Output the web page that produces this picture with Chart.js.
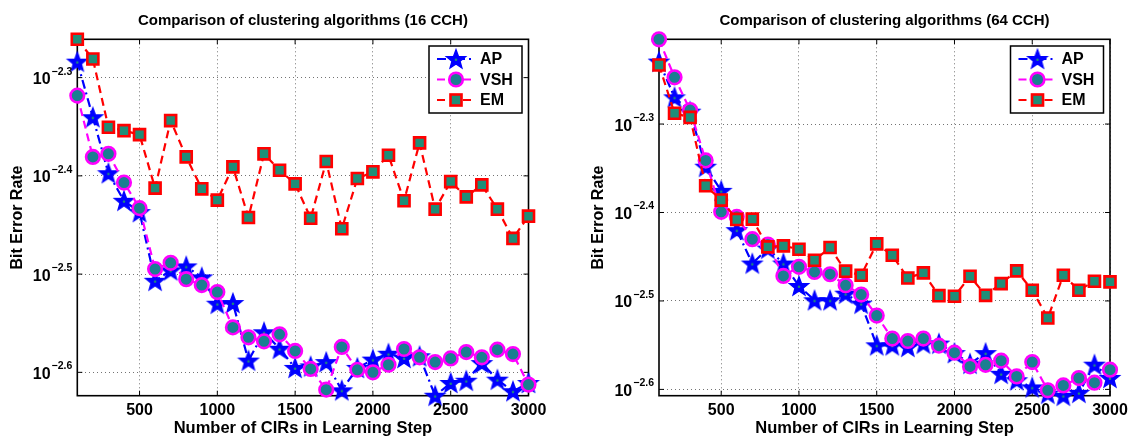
<!DOCTYPE html>
<html>
<head>
<meta charset="utf-8">
<script src="https://cdn.jsdelivr.net/npm/chart.js@4.4.1/dist/chart.umd.min.js"></script>
<style>
  html, body { margin: 0; padding: 0; background: #ffffff; }
  #wrap { position: relative; width: 1131px; height: 440px; overflow: hidden; background: #ffffff; }
  #wrap canvas { position: absolute; top: 0; }
</style>
</head>
<body>
<div id="wrap">
  <canvas id="ber16" width="565" height="440" style="left:0px"></canvas>
  <canvas id="ber64" width="566" height="440" style="left:565px"></canvas>
</div>
<script>
// Number of CIRs used in the learning step
const learningSteps = [100, 200, 300, 400, 500, 600, 700, 800, 900, 1000,
  1100, 1200, 1300, 1400, 1500, 1600, 1700, 1800, 1900, 2000,
  2100, 2200, 2300, 2400, 2500, 2600, 2700, 2800, 2900, 3000];

// Bit error rate, 16 CCH
const ap16 = [0.005203, 0.004568, 0.004006, 0.003755, 0.003657, 0.003113, 0.003190, 0.003220, 0.003138, 0.002950,
  0.002955, 0.002582, 0.002759, 0.002655, 0.002538, 0.002547, 0.002573, 0.002408, 0.002538, 0.002588,
  0.002624, 0.002598, 0.002608, 0.002378, 0.002450, 0.002463, 0.002567, 0.002469, 0.002403, 0.002450];
const vsh16 = [0.004805, 0.004162, 0.004192, 0.003919, 0.003691, 0.003200, 0.003247, 0.003125, 0.003082, 0.003032,
  0.002791, 0.002727, 0.002701, 0.002746, 0.002641, 0.002532, 0.002412, 0.002666, 0.002527, 0.002512,
  0.002557, 0.002653, 0.002602, 0.002573, 0.002595, 0.002634, 0.002602, 0.002649, 0.002622, 0.002441];
const em16 = [0.005483, 0.005236, 0.004462, 0.004426, 0.004385, 0.003868, 0.004532, 0.004162, 0.003862, 0.003761,
  0.004066, 0.003611, 0.004192, 0.004034, 0.003907, 0.003605, 0.004117, 0.003517, 0.003956, 0.004019,
  0.004178, 0.003755, 0.004301, 0.003682, 0.003928, 0.003790, 0.003898, 0.003682, 0.003438, 0.003622];

// Bit error rate, 64 CCH
const ap64 = [0.005897, 0.005373, 0.005176, 0.004485, 0.004212, 0.003802, 0.003486, 0.003624, 0.003486, 0.003288,
  0.003168, 0.003168, 0.003223, 0.003140, 0.002817, 0.002817, 0.002806, 0.002830, 0.002830, 0.002761,
  0.002686, 0.002761, 0.002616, 0.002572, 0.002525, 0.002484, 0.002471, 0.002490, 0.002679, 0.002588];
const vsh64 = [0.006249, 0.005660, 0.005198, 0.004559, 0.003988, 0.003936, 0.003714, 0.003663, 0.003375, 0.003456,
  0.003410, 0.003390, 0.003294, 0.003215, 0.003044, 0.002867, 0.002849, 0.002867, 0.002815, 0.002764,
  0.002667, 0.002678, 0.002707, 0.002598, 0.002697, 0.002506, 0.002538, 0.002587, 0.002556, 0.002644];
const em64 = [0.005845, 0.005154, 0.005099, 0.004268, 0.004112, 0.003910, 0.003913, 0.003640, 0.003650, 0.003618,
  0.003516, 0.003634, 0.003417, 0.003381, 0.003669, 0.003562, 0.003357, 0.003402, 0.003206, 0.003201,
  0.003372, 0.003209, 0.003308, 0.003420, 0.003252, 0.003025, 0.003381, 0.003252, 0.003329, 0.003323];

// Axis ticks
const xTickValues = [500, 1000, 1500, 2000, 2500, 3000];
const xTickLabels = ['500', '1000', '1500', '2000', '2500', '3000'];
const yTickValues = [0.0025119, 0.0031623, 0.0039811, 0.0050119];
const yTickExponents = ['\u22122.6', '\u22122.5', '\u22122.4', '\u22122.3'];

const FONT = "'Liberation Sans', Arial, Helvetica, sans-serif";
const FACE_CIRCLE = '#1b7e91';
const FACE_SQUARE = '#1f8e78';

// five-pointed star marker
function makeStar(R, r, color, dot) {
  const c = document.createElement('canvas');
  const s = Math.ceil(2 * R + 4);
  c.width = s; c.height = s;
  const g = c.getContext('2d');
  g.translate(s / 2, s / 2 + 0.8);
  g.beginPath();
  for (let i = 0; i < 10; i++) {
    const rad = i % 2 ? r : R;
    const a = -Math.PI / 2 + i * Math.PI / 5;
    if (i === 0) g.moveTo(rad * Math.cos(a), rad * Math.sin(a));
    else g.lineTo(rad * Math.cos(a), rad * Math.sin(a));
  }
  g.closePath();
  g.fillStyle = color; g.fill();
  g.lineWidth = 1.4; g.lineJoin = 'miter'; g.strokeStyle = color; g.stroke();
  g.beginPath(); g.arc(0, 0, 1.3, 0, Math.PI * 2); g.fillStyle = dot; g.fill();
  return c;
}
const starMarker = makeStar(10, 4.2, '#0000ff', '#1f8e78');

function points(values) {
  return learningSteps.map((x, i) => ({ x: x, y: values[i] }));
}

function datasets(ap, vsh, em) {
  return [
    { label: 'AP', data: points(ap), borderColor: '#0000ff', borderWidth: 2.2,
      borderDash: [9, 4, 2, 4], pointStyle: starMarker, pointRadius: 10, pointHoverRadius: 10,
      backgroundColor: '#0000ff', order: 2, clip: false, tension: 0, fill: false },
    { label: 'VSH', data: points(vsh), borderColor: '#ff00ff', borderWidth: 2.2,
      borderDash: [8, 5], pointStyle: 'circle', pointRadius: 6.8, pointHoverRadius: 6.8,
      pointBackgroundColor: FACE_CIRCLE, pointBorderColor: '#ff00ff', pointBorderWidth: 2.6,
      backgroundColor: FACE_CIRCLE, order: 1, clip: false, tension: 0, fill: false },
    { label: 'EM', data: points(em), borderColor: '#ff0000', borderWidth: 2.2,
      borderDash: [8, 5], pointStyle: 'rect', pointRadius: 7.8, pointHoverRadius: 7.8,
      pointBackgroundColor: FACE_SQUARE, pointBorderColor: '#ff0000', pointBorderWidth: 2.6,
      backgroundColor: FACE_SQUARE, order: 0, clip: false, tension: 0, fill: false }
  ];
}

// frame, inward ticks, tick labels, titles and in-plot legend
const axesDecor = {
  id: 'axesDecor',
  beforeDatasetsDraw(chart, args, opts) {
    const { ctx, chartArea: a } = chart;
    const xs = chart.scales.x, ys = chart.scales.y;
    ctx.save();
    ctx.strokeStyle = '#000';
    ctx.lineWidth = 1;
    ctx.beginPath();
    xs.ticks.forEach(t => {
      const px = xs.getPixelForValue(t.value);
      ctx.moveTo(px, a.bottom); ctx.lineTo(px, a.bottom - 5);
      ctx.moveTo(px, a.top); ctx.lineTo(px, a.top + 5);
    });
    ys.ticks.forEach(t => {
      const py = ys.getPixelForValue(t.value);
      ctx.moveTo(a.left, py); ctx.lineTo(a.left + 5, py);
      ctx.moveTo(a.right, py); ctx.lineTo(a.right - 5, py);
    });
    ctx.stroke();
    ctx.lineWidth = 1.6;
    ctx.strokeRect(a.left, a.top, a.right - a.left, a.bottom - a.top);
    ctx.restore();
  },
  afterDraw(chart, args, opts) {
    const { ctx, chartArea: a } = chart;
    const xs = chart.scales.x, ys = chart.scales.y;
    ctx.save();
    ctx.fillStyle = '#000';

    // title
    ctx.font = `bold 15px ${FONT}`;
    ctx.textAlign = 'center';
    ctx.textBaseline = 'middle';
    ctx.fillText(opts.title, (a.left + a.right) / 2, 21);

    // x tick labels
    ctx.font = `bold 16px ${FONT}`;
    xs.ticks.forEach((t, i) => {
      ctx.fillText(xTickLabels[i], xs.getPixelForValue(t.value), a.bottom + 15);
    });

    // x axis title
    ctx.font = `bold 16.5px ${FONT}`;
    ctx.fillText('Number of CIRs in Learning Step', (a.left + a.right) / 2, 428);

    // y tick labels: 10 with raised exponent
    ys.ticks.forEach((t, i) => {
      const py = ys.getPixelForValue(t.value);
      ctx.font = `bold 10.5px ${FONT}`;
      const expW = ctx.measureText(yTickExponents[i]).width;
      const expX = a.left - 5 - expW;
      ctx.textAlign = 'left';
      ctx.textBaseline = 'alphabetic';
      ctx.fillText(yTickExponents[i], expX, py - 3);
      ctx.font = `bold 16px ${FONT}`;
      ctx.textAlign = 'right';
      ctx.fillText('10', expX - 1, py + 6.5);
    });

    // y axis title
    ctx.save();
    ctx.translate(a.left - 60, (a.top + a.bottom) / 2);
    ctx.rotate(-Math.PI / 2);
    ctx.font = `bold 16px ${FONT}`;
    ctx.textAlign = 'center';
    ctx.textBaseline = 'middle';
    ctx.fillText('Bit Error Rate', 0, 0);
    ctx.restore();

    // legend
    const bw = 93, bh = 67;
    const bx = a.right - 6.5 - bw, by = a.top + 6.7;
    ctx.fillStyle = '#fff';
    ctx.fillRect(bx, by, bw, bh);
    ctx.strokeStyle = '#000';
    ctx.lineWidth = 1.5;
    ctx.strokeRect(bx, by, bw, bh);
    const rows = [13, 33.5, 54];
    chart.data.datasets.forEach((ds, i) => {
      const ry = by + rows[i];
      ctx.save();
      ctx.strokeStyle = ds.borderColor;
      ctx.lineWidth = ds.borderWidth;
      ctx.setLineDash(ds.borderDash);
      ctx.beginPath();
      ctx.moveTo(bx + 8, ry); ctx.lineTo(bx + 44, ry);
      ctx.stroke();
      ctx.setLineDash([]);
      const mx = bx + 27;
      if (ds.pointStyle === 'circle') {
        ctx.beginPath();
        ctx.arc(mx, ry, ds.pointRadius, 0, Math.PI * 2);
        ctx.fillStyle = ds.pointBackgroundColor; ctx.fill();
        ctx.lineWidth = ds.pointBorderWidth; ctx.strokeStyle = ds.pointBorderColor; ctx.stroke();
      } else if (ds.pointStyle === 'rect') {
        const h = ds.pointRadius * Math.SQRT1_2;
        ctx.fillStyle = ds.pointBackgroundColor;
        ctx.fillRect(mx - h, ry - h, 2 * h, 2 * h);
        ctx.lineWidth = ds.pointBorderWidth; ctx.strokeStyle = ds.pointBorderColor;
        ctx.strokeRect(mx - h, ry - h, 2 * h, 2 * h);
      } else {
        const img = ds.pointStyle;
        ctx.drawImage(img, mx - img.width / 2, ry - img.height / 2);
      }
      ctx.restore();
      ctx.fillStyle = '#000';
      ctx.font = `bold 16px ${FONT}`;
      ctx.textAlign = 'left';
      ctx.textBaseline = 'middle';
      ctx.fillText(ds.label, bx + 51, ry + 1);
    });
    ctx.restore();
  }
};

function makeChart(id, title, ds, yAxisWidth, padRight) {
  const all = ds.flatMap(d => d.data.map(p => p.y));
  return new Chart(document.getElementById(id), {
    type: 'line',
    data: { datasets: ds },
    plugins: [axesDecor],
    options: {
      responsive: false,
      animation: false,
      devicePixelRatio: 1,
      layout: { padding: { top: 39.3, right: padRight, bottom: 0, left: 0 } },
      plugins: {
        legend: { display: false },
        title: { display: false },
        tooltip: { enabled: false },
        axesDecor: { title: title }
      },
      scales: {
        x: {
          type: 'linear', min: 100, max: 3000, bounds: 'data',
          afterBuildTicks: s => { s.ticks = xTickValues.map(v => ({ value: v })); },
          afterFit: s => { s.height = 44.3; },
          ticks: { display: false },
          grid: { color: 'rgba(0,0,0,0.55)', lineWidth: 1, drawTicks: false },
          border: { display: false, dash: [1, 3] }
        },
        y: {
          type: 'logarithmic', bounds: 'data',
          min: Math.min(...all), max: Math.max(...all),
          afterBuildTicks: s => { s.ticks = yTickValues.map(v => ({ value: v })); },
          afterFit: s => { s.width = yAxisWidth; },
          ticks: { display: false },
          grid: { color: 'rgba(0,0,0,0.55)', lineWidth: 1, drawTicks: false },
          border: { display: false, dash: [1, 3] }
        }
      }
    }
  });
}

makeChart('ber16', 'Comparison of clustering algorithms (16 CCH)', datasets(ap16, vsh16, em16), 77.3, 36.5);
makeChart('ber64', 'Comparison of clustering algorithms (64 CCH)', datasets(ap64, vsh64, em64), 94, 21);
</script>
</body>
</html>
